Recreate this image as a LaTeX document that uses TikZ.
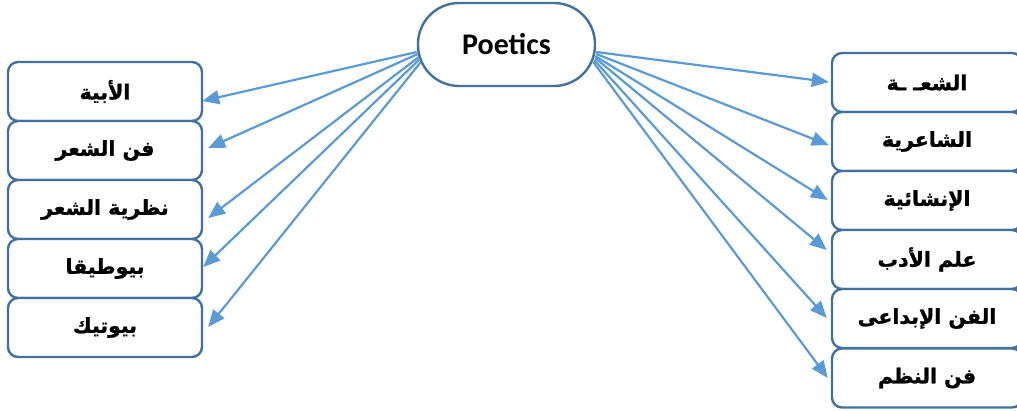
\documentclass[tikz,border=0pt]{standalone}
\usepackage{fontspec}
\setsansfont{Carlito}
\newfontfamily\arabicfont[Script=Arabic,BoldFeatures={FakeBold=1.2}]{DejaVu Sans}
\TeXXeTstate=1
\usetikzlibrary{arrows.meta,calc}
\definecolor{boxline}{HTML}{41719C}
\definecolor{arrowc}{HTML}{5B9BD5}
\begin{document}
\begin{tikzpicture}[x=1pt,y=-1pt,
  box/.style={draw=boxline,line width=2.4pt,rounded corners=10pt,minimum height=59pt,inner sep=0pt,fill=white,
    font=\arabicfont\bfseries\fontsize{20.5}{24}\selectfont},
  lbox/.style={box,minimum width=194pt},
  rbox/.style={box,minimum width=190pt},
  center/.style={draw=boxline,line width=2.4pt,rounded corners=41pt,minimum width=177pt,minimum height=83pt,fill=white,
    font=\sffamily\bfseries\fontsize{30}{36}\selectfont},
  arr/.style={draw=arrowc,line width=2.2pt,-{Triangle[length=17pt,width=14pt]}}]
\useasboundingbox (0,0) rectangle (1017,410);
\clip (0,0) rectangle (1017,410);
\node[center] (P) at (506.5,44.5) {Poetics};
% left boxes
\node[lbox] (L1) at (105,91.5) {\beginR الأبية\endR};
\node[lbox] (L2) at (105,150.5) {\beginR فن الشعر\endR};
\node[lbox] (L3) at (105,209.5) {\beginR نظرية الشعر\endR};
\node[lbox] (L4) at (105,268.5) {\beginR بيوطيقا\endR};
\node[lbox] (L5) at (105,327.5) {\beginR بيوتيك\endR};
% right boxes
\node[rbox] (R1) at (927,82.5) {\beginR الشعـ ـة\endR};
\node[rbox] (R2) at (927,141.5) {\beginR الشاعرية\endR};
\node[rbox] (R3) at (927,200.5) {\beginR الإنشائية\endR};
\node[rbox] (R4) at (927,259.5) {\beginR علم الأدب\endR};
\node[rbox] (R5) at (927,318.5) {\beginR الفن الإبداعى\endR};
\node[rbox] (R6) at (927,378) {\beginR فن النظم\endR};
% arrows to the left
\draw[arr] ([shift={(0,7.5)}]P.west) -- ([shift={(-1,9.5)}]L1.east);
\draw[arr] ([shift={(1,9.5)}]P.west) -- ([shift={(5,-2.5)}]L2.east);
\draw[arr] ([shift={(2,12.5)}]P.west) -- ([shift={(5,8.5)}]L3.east);
\draw[arr] ([shift={(3,14.5)}]P.west) -- ([shift={(0,-1.5)}]L4.east);
\draw[arr] ([shift={(4,17.5)}]P.west) -- ([shift={(5,-0.5)}]L5.east);
% arrows to the right
\draw[arr] ([shift={(0,7.5)}]P.east) -- ([shift={(-2,-0.5)}]R1.west);
\draw[arr] ([shift={(0,9.5)}]P.east) -- ([shift={(-2,3.5)}]R2.west);
\draw[arr] ([shift={(-1,11.5)}]P.east) -- ([shift={(-3,-0.5)}]R3.west);
\draw[arr] ([shift={(-1,13.5)}]P.east) -- ([shift={(-4,-9.5)}]R4.west);
\draw[arr] ([shift={(-2,15.5)}]P.east) -- ([shift={(-4,-0.5)}]R5.west);
\draw[arr] ([shift={(-3,17.5)}]P.east) -- ([shift={(-3,0)}]R6.west);
\end{tikzpicture}
\end{document}
